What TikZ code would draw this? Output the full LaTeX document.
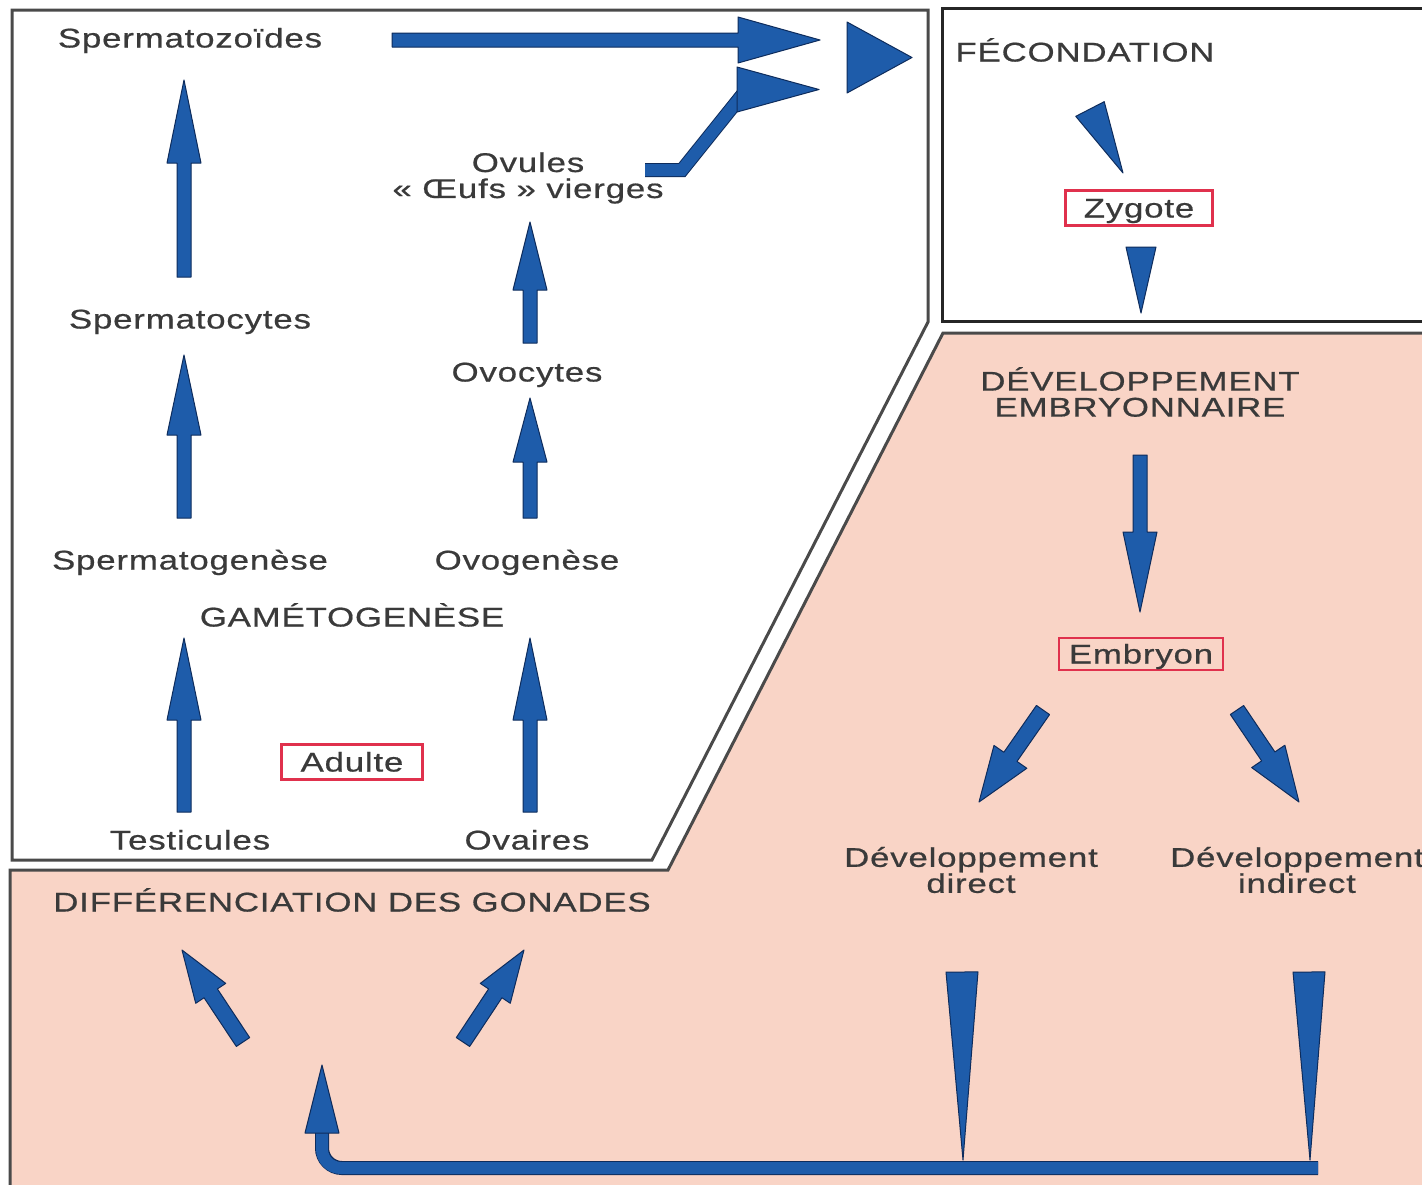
\documentclass[tikz,border=0pt]{standalone}
\usepackage{fontspec}
\setmainfont{Liberation Sans}[FakeStretch=1.29,LetterSpace=3,FakeBold=0.6]
\usetikzlibrary{calc}

\definecolor{panelpink}{HTML}{F9D4C6}
\definecolor{arrowblue}{HTML}{1E5CAA}
\definecolor{arrowedge}{HTML}{0E2C5C}
\definecolor{ink}{HTML}{3A3A3A}
\definecolor{framegray}{HTML}{4A4A4A}
\definecolor{boxred}{HTML}{E0314D}

\tikzset{
  lbl/.style={font=\fontsize{27}{26}\selectfont, text=ink, inner sep=0pt,
              text height=19pt, text depth=0pt},
  lbl2/.style={font=\fontsize{27}{26}\selectfont, text=ink, inner sep=0pt, align=center},
  stagebox/.style={lbl, draw=boxred, line width=2.5pt},
  arrowfill/.style={fill=arrowblue, draw=arrowedge, line width=1pt, line join=round},
  frame/.style={draw=framegray, line width=3pt, line join=miter},
  shaftout/.style={draw=arrowedge, line width=14pt},
  shaftin/.style={draw=arrowblue, line width=12pt}
}

% block arrow: tail, tip, shaft half-width, head half-width, head length
\newcommand\blockarrow[5]{%
  \coordinate (ba-h) at ($(#2)!#5!(#1)$);
  \filldraw[arrowfill] ($(#1)!#3!90:(#2)$) -- ($(ba-h)!#3!90:(#2)$)
    -- ($(ba-h)!#4!90:(#2)$) -- (#2) -- ($(ba-h)!#4!-90:(#2)$)
    -- ($(ba-h)!#3!-90:(#2)$) -- ($(#1)!#3!-90:(#2)$) -- cycle;}

% tapered wedge: base centre, tip, half-width of base
\newcommand\wedgearrow[3]{%
  \filldraw[arrowfill] ($(#1)!#3!90:(#2)$) -- (#2) -- ($(#1)!#3!-90:(#2)$) -- cycle;}

\begin{document}
\begin{tikzpicture}[x=1pt,y=-1pt]
\useasboundingbox (0,0) rectangle (1422,1184);
\fill[white] (0,0) rectangle (1422,1184);
\clip (0,0) rectangle (1422,1184);

% panels
\filldraw[frame, fill=panelpink] (10,870) -- (668,870) -- (943,333) -- (1440,333)
  -- (1440,1200) -- (10,1200) -- cycle;
\draw[frame, fill=white] (12,10) -- (928,10) -- (928,322) -- (652,860) -- (12,860) -- cycle;
\draw[frame, draw=black!85] (942,8) rectangle (1440,321);

% labels
\node[lbl] (spz) at (190,38) {Spermatozoïdes};
\node[lbl] (spc) at (190,319) {Spermatocytes};
\node[lbl] (spg) at (190,560) {Spermatogenèse};
\node[lbl] (ovg) at (527,560) {Ovogenèse};
\node[lbl] (ovc) at (527,372) {Ovocytes};
\node[lbl2] (ovu) at (528,178) {Ovules\\« Œufs » vierges};
\node[lbl] (gam) at (352,617) {GAMÉTOGENÈSE};
\node[stagebox, minimum width=141pt, minimum height=35pt] (adu) at (352,762) {Adulte};
\node[lbl] (tes) at (190,840) {Testicules};
\node[lbl] (ovr) at (527,840) {Ovaires};
\node[lbl] (fec) at (1085,52) {FÉCONDATION};
\node[stagebox, minimum width=147pt, minimum height=35pt] (zyg) at (1139,208) {Zygote};
\node[lbl2] (dev) at (1140,392) {DÉVELOPPEMENT\\EMBRYONNAIRE};
\node[stagebox, minimum width=164pt, minimum height=32pt] (emb) at (1141,654) {Embryon};
\node[lbl2] (dir) at (971,870) {Développement\\direct};
\node[lbl2] (ind) at (1297,870) {Développement\\indirect};
\node[lbl] (dif) at (352,902) {DIFFÉRENCIATION DES GONADES};

% arrow end points
\coordinate (a1t) at (184,812); \coordinate (a1h) at (184,638);
\coordinate (a2t) at (184,518); \coordinate (a2h) at (184,355);
\coordinate (a3t) at (184,277); \coordinate (a3h) at (184,80);
\coordinate (b1t) at (530,812); \coordinate (b1h) at (530,638);
\coordinate (b2t) at (530,518); \coordinate (b2h) at (530,398);
\coordinate (b3t) at (530,343); \coordinate (b3h) at (530,222);
\coordinate (st) at (392,40); \coordinate (sh) at (820,40);
\coordinate (ea) at (1140,455); \coordinate (eb) at (1140,612);
\coordinate (l1t) at (1043,710); \coordinate (l1h) at (979,802);
\coordinate (r1t) at (1237,710); \coordinate (r1h) at (1299,802);
\coordinate (g1t) at (243,1042); \coordinate (g1h) at (182,950);
\coordinate (g2t) at (463,1042); \coordinate (g2h) at (524,950);

% gametogenesis arrows
\blockarrow{a1t}{a1h}{7pt}{17pt}{82pt}
\blockarrow{a2t}{a2h}{7pt}{17pt}{80pt}
\blockarrow{a3t}{a3h}{7pt}{17pt}{83pt}
\blockarrow{b1t}{b1h}{7pt}{17pt}{82pt}
\blockarrow{b2t}{b2h}{7pt}{17pt}{64pt}
\blockarrow{b3t}{b3h}{7pt}{17pt}{68pt}

% gametes towards fertilisation
\blockarrow{st}{sh}{7pt}{23pt}{82pt}
\coordinate (o1) at (645,170); \coordinate (o2) at (682,170); \coordinate (o3) at (743,94);
\draw[shaftout] (o1) -- (o2) -- (o3);
\draw[shaftin] (o1) -- (o2) -- (o3);
\coordinate (ovb) at (737,89.5); \coordinate (ovt) at (819,89.5);
\wedgearrow{ovb}{ovt}{22.5pt}
\coordinate (fb) at (847,57.5); \coordinate (ft) at (912,57.5);
\wedgearrow{fb}{ft}{35.5pt}

% fertilisation panel
\coordinate (z1b) at (1090,109); \coordinate (z1t) at (1123,173);
\wedgearrow{z1b}{z1t}{16pt}
\coordinate (z2b) at (1141,247); \coordinate (z2t) at (1141,313);
\wedgearrow{z2b}{z2t}{15pt}

% embryonic development
\blockarrow{ea}{eb}{7pt}{17pt}{80pt}
\blockarrow{l1t}{l1h}{8pt}{20pt}{55pt}
\blockarrow{r1t}{r1h}{8pt}{20pt}{55pt}

% gonad differentiation
\blockarrow{g1t}{g1h}{8pt}{18pt}{52pt}
\blockarrow{g2t}{g2h}{8pt}{18pt}{52pt}

% return path to the adult
\coordinate (rr) at (1318,1168); \coordinate (rup) at (322,1130);
\draw[shaftout, rounded corners=20pt] (rr) -| (rup);
\draw[shaftin, rounded corners=19pt] (rr) -| (rup);
\coordinate (rhb) at (322,1133); \coordinate (rht) at (322,1065);
\wedgearrow{rhb}{rht}{17pt}
\coordinate (w1b) at (962,972); \coordinate (w1t) at (963,1160);
\wedgearrow{w1b}{w1t}{16pt}
\coordinate (w2b) at (1309,972); \coordinate (w2t) at (1310,1160);
\wedgearrow{w2b}{w2t}{16pt}
\end{tikzpicture}
\end{document}
